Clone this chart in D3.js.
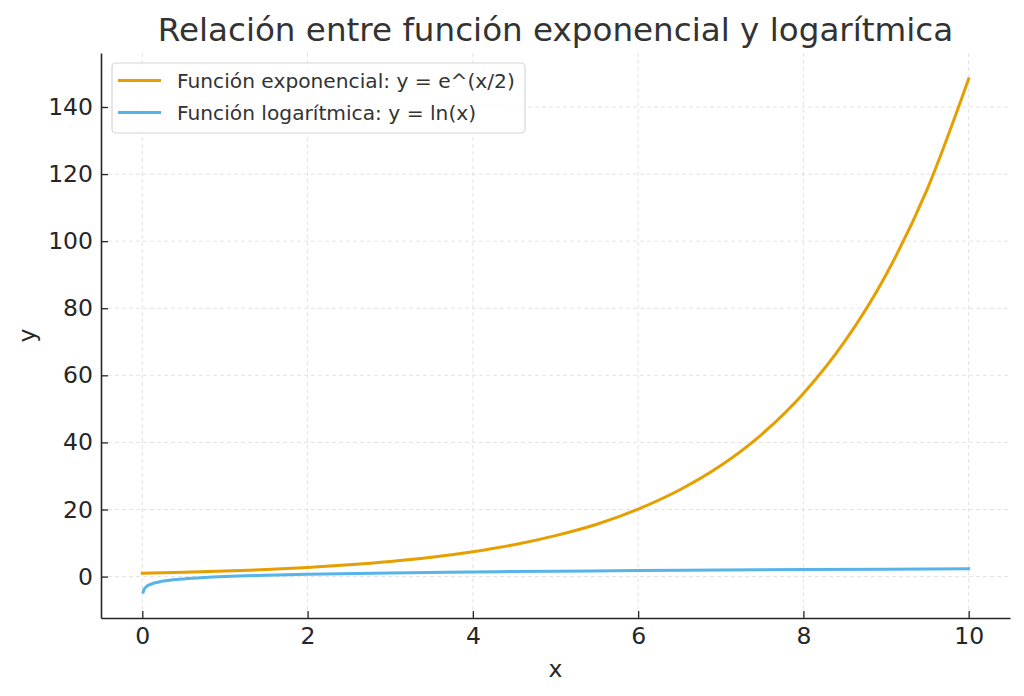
<!DOCTYPE html>
<html>
<head>
<meta charset="utf-8">
<script src="https://cdn.jsdelivr.net/npm/d3@7"></script>
<style>
  body { margin: 0; background: #fff; }
  svg { display: block; font-family: "DejaVu Sans", sans-serif; }
</style>
</head>
<body>
<div id="container"></div>
<script>
/* DATA */
const expX = [0, 0.5, 1, 1.5, 2, 2.5, 3, 3.5, 4, 4.5, 5, 5.5, 6, 6.5, 7, 7.5, 8, 8.5, 9, 9.5, 10];
const expY = [1, 1.28, 1.65, 2.1, 2.7, 3.5, 4.5, 5.75, 7.4, 9.5, 12.2, 15.6, 20.1, 25.8, 33.1, 42.5, 54.6, 70.1, 90, 115.6, 148.4];
const logX = [0.01, 0.02, 0.05, 0.1, 0.2, 0.3, 0.5, 0.75, 1, 1.5, 2, 3, 4, 5, 6, 7, 8, 9, 10];
const logY = [-4.6, -3.9, -3.0, -2.3, -1.6, -1.2, -0.7, -0.29, 0, 0.4, 0.69, 1.1, 1.39, 1.61, 1.79, 1.95, 2.08, 2.2, 2.3];
const xTicks = [0, 2, 4, 6, 8, 10];
const yTicks = [0, 20, 40, 60, 80, 100, 120, 140];
const seriesNames = ["Función exponencial: y = e^(x/2)", "Función logarítmica: y = ln(x)"];
const seriesColors = ["#E69F00", "#56B4E9"];

/* CONSTANTS */
const width = 1024, height = 696;
const plotLeft = 101, plotRight = 1010, plotTop = 53, plotBottom = 618;
const ink = "#262626";

const svg = d3.select("#container").append("svg")
  .attr("width", width).attr("height", height);

const xScale = d3.scaleLinear().domain([-0.5, 10.5]).range([plotLeft, plotRight]);
const yScale = d3.scaleLinear().domain([-12.35, 156.1]).range([plotBottom, plotTop]);

/* grid */
svg.append("g").selectAll("line").data(xTicks).join("line")
  .attr("x1", d => xScale(d)).attr("x2", d => xScale(d))
  .attr("y1", plotTop).attr("y2", plotBottom)
  .attr("stroke", "#dcdcdc").attr("stroke-width", 0.8).attr("stroke-dasharray", "4,3");
svg.append("g").selectAll("line").data(yTicks).join("line")
  .attr("x1", plotLeft).attr("x2", plotRight)
  .attr("y1", d => yScale(d)).attr("y2", d => yScale(d))
  .attr("stroke", "#dcdcdc").attr("stroke-width", 0.8).attr("stroke-dasharray", "4,3");

/* axes */
const xAxis = d3.axisBottom(xScale).tickValues(xTicks).tickSizeInner(-7).tickSizeOuter(0).tickPadding(9);
const gx = svg.append("g").attr("transform", `translate(0,${plotBottom})`).call(xAxis);
const yAxis = d3.axisLeft(yScale).tickValues(yTicks).tickSizeInner(-7).tickSizeOuter(0).tickPadding(8);
const gy = svg.append("g").attr("transform", `translate(${plotLeft},0)`).call(yAxis);
[gx, gy].forEach(g => {
  g.select(".domain").attr("stroke", ink).attr("stroke-width", 1.6);
  g.selectAll(".tick line").attr("stroke", ink).attr("stroke-width", 1.3);
  g.selectAll(".tick text").attr("fill", ink).style("font-size", "23.5px").style("font-family", "DejaVu Sans");
});
gx.selectAll(".tick text").attr("dy", "0.73em");

/* curves */
const line = d3.line().x(d => xScale(d[0])).y(d => yScale(d[1])).curve(d3.curveMonotoneX);
const series = [d3.zip(expX, expY), d3.zip(logX, logY)];
svg.append("g").selectAll("path").data(series).join("path")
  .attr("d", line)
  .attr("fill", "none")
  .attr("stroke", (d, i) => seriesColors[i])
  .attr("stroke-width", 3)
  .attr("stroke-linecap", "square");

/* labels */
svg.append("text").attr("x", (plotLeft + plotRight) / 2).attr("y", 41)
  .attr("text-anchor", "middle").attr("fill", "#333")
  .style("font-size", "32.6px").text("Relación entre función exponencial y logarítmica");
svg.append("text").attr("x", (plotLeft + plotRight) / 2).attr("y", 677)
  .attr("text-anchor", "middle").attr("fill", ink)
  .style("font-size", "23.5px").text("x");
svg.append("text").attr("transform", `translate(35,${(plotTop + plotBottom) / 2}) rotate(-90)`)
  .attr("text-anchor", "middle").attr("fill", ink)
  .style("font-size", "23.5px").text("y");

/* legend */
const legend = svg.append("g");
legend.append("rect").attr("x", 112).attr("y", 63).attr("width", 413).attr("height", 70)
  .attr("rx", 4).attr("fill", "#fff").attr("fill-opacity", 0.8)
  .attr("stroke", "#d6d6d6").attr("stroke-width", 1.2);
const rows = legend.selectAll("g.row").data(seriesNames).join("g")
  .attr("class", "row")
  .attr("transform", (d, i) => `translate(0,${80.5 + i * 32})`);
rows.append("line").attr("x1", 118).attr("x2", 161)
  .attr("stroke", (d, i) => seriesColors[i]).attr("stroke-width", 3);
rows.append("text").attr("x", 177).attr("dy", "0.35em").attr("fill", "#333")
  .style("font-size", "20.2px").text(d => d);
</script>
</body>
</html>
